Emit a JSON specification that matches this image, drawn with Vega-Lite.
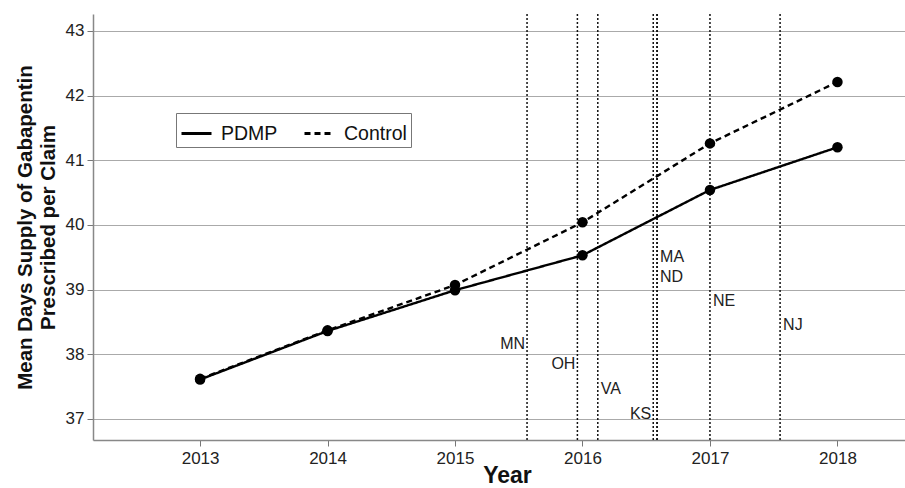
{
  "$schema": "https://vega.github.io/schema/vega-lite/v6.json",
  "width": 812,
  "height": 426,
  "autosize": "none",
  "padding": {"left": 93, "top": 14, "right": 0, "bottom": 48},
  "config": {
    "font": "Liberation Sans",
    "view": {"stroke": null},
    "axis": {"labelFont": "Liberation Sans", "titleFont": "Liberation Sans", "labelColor": "#222", "titleColor": "#111"}
  },
  "datasets": {
    "series": [
      {"year": 2013, "value": 37.61, "group": "PDMP"},
      {"year": 2014, "value": 38.36, "group": "PDMP"},
      {"year": 2015, "value": 38.99, "group": "PDMP"},
      {"year": 2016, "value": 39.53, "group": "PDMP"},
      {"year": 2017, "value": 40.54, "group": "PDMP"},
      {"year": 2018, "value": 41.2, "group": "PDMP"},
      {"year": 2013, "value": 37.62, "group": "Control"},
      {"year": 2014, "value": 38.37, "group": "Control"},
      {"year": 2015, "value": 39.07, "group": "Control"},
      {"year": 2016, "value": 40.04, "group": "Control"},
      {"year": 2017, "value": 41.26, "group": "Control"},
      {"year": 2018, "value": 42.21, "group": "Control"}
    ],
    "states": [
      {"state": "MN", "date": 2015.565, "ly": 38.16, "side": "right"},
      {"state": "OH", "date": 2015.96, "ly": 37.85, "side": "right"},
      {"state": "VA", "date": 2016.12, "ly": 37.47, "side": "left"},
      {"state": "KS", "date": 2016.555, "ly": 37.08, "side": "right"},
      {"state": "MA", "date": 2016.585, "ly": 39.51, "side": "left"},
      {"state": "ND", "date": 2016.585, "ly": 39.2, "side": "left"},
      {"state": "NE", "date": 2017.0, "ly": 38.83, "side": "left"},
      {"state": "NJ", "date": 2017.55, "ly": 38.46, "side": "left"}
    ]
  },
  "encoding": {},
  "layer": [
    {
      "data": {"name": "states"},
      "mark": {"type": "rule", "color": "#111", "strokeDash": [2, 2], "strokeWidth": 1.5},
      "encoding": {
        "x": {"field": "date", "type": "quantitative", "scale": {"domain": [2012.16, 2018.53], "nice": false, "zero": false},
          "axis": {"values": [2013, 2014, 2015, 2016, 2017, 2018], "format": "d", "grid": false, "labelFontSize": 17, "labelPadding": 4, "tickSize": 6, "tickColor": "#777", "domainColor": "#888", "domainWidth": 1.5, "title": "Year", "titleFontSize": 23, "titleFontWeight": "bold", "titlePadding": -2, "titleX": 414}},
        "y": {"datum": 43.26, "type": "quantitative"},
        "y2": {"datum": 36.675}
      }
    },
    {
      "data": {"name": "states"},
      "transform": [{"filter": "datum.side == 'right'"}],
      "mark": {"type": "text", "fontSize": 16, "color": "#222", "baseline": "middle", "align": "right", "dx": -2},
      "encoding": {
        "x": {"field": "date", "type": "quantitative"},
        "y": {"field": "ly", "type": "quantitative"},
        "text": {"field": "state"}
      }
    },
    {
      "data": {"name": "states"},
      "transform": [{"filter": "datum.side == 'left'"}],
      "mark": {"type": "text", "fontSize": 16, "color": "#222", "baseline": "middle", "align": "left", "dx": 3},
      "encoding": {
        "x": {"field": "date", "type": "quantitative"},
        "y": {"field": "ly", "type": "quantitative"},
        "text": {"field": "state"}
      }
    },
    {
      "data": {"name": "series"},
      "mark": {"type": "line", "color": "#000", "strokeWidth": 2.4},
      "encoding": {
        "x": {"field": "year", "type": "quantitative"},
        "y": {"field": "value", "type": "quantitative", "scale": {"domain": [36.675, 43.26], "nice": false, "zero": false},
          "axis": {"values": [37, 38, 39, 40, 41, 42, 43], "format": "d", "grid": true, "gridColor": "#aaa", "gridWidth": 1.2, "labelFontSize": 17, "labelPadding": 3, "tickColor": "#777", "tickSize": 6, "domainColor": "#888", "domainWidth": 1.5,
            "title": ["Mean Days Supply of Gabapentin", "Prescribed per Claim"], "titleFontSize": 20.5, "titleFontWeight": "bold", "titlePadding": 7, "titleLineHeight": 23}},
        "strokeDash": {"field": "group", "type": "nominal", "scale": {"domain": ["PDMP", "Control"], "range": [[1, 0], [6, 4]]},
          "legend": {"orient": "none", "legendX": 83, "legendY": 99, "direction": "horizontal", "title": null, "symbolType": "stroke", "symbolStrokeWidth": 2.8, "symbolSize": 900, "symbolStrokeColor": "#000", "labelFontSize": 19.5, "labelColor": "#111", "strokeColor": "#777", "padding": 4, "columnPadding": 20, "labelOffset": 8}}
      }
    },
    {
      "data": {"name": "series"},
      "mark": {"type": "point", "filled": true, "color": "#000", "size": 110, "opacity": 1},
      "encoding": {
        "x": {"field": "year", "type": "quantitative"},
        "y": {"field": "value", "type": "quantitative"}
      }
    }
  ]
}
